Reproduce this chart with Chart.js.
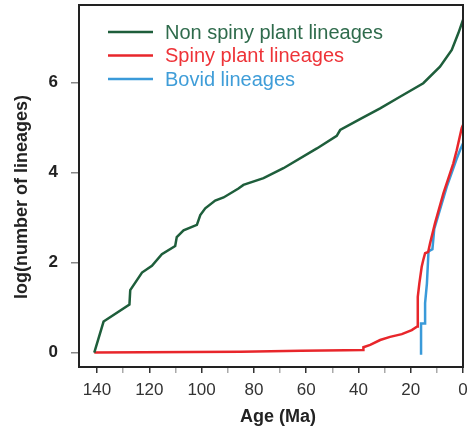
<!DOCTYPE html>
<html>
<head>
<meta charset="utf-8">
<script src="https://cdn.jsdelivr.net/npm/chart.js@4.4.1/dist/chart.umd.min.js"></script>
<style>
  body { margin: 0; background: #fff; }
  #wrap { width: 468px; height: 429px; }
</style>
</head>
<body>
<div id="wrap"><canvas id="myChart" width="468" height="429"></canvas></div>
<script>
// Age (Ma) and log(number of lineages)
var greenAge = [141.06, 137.5, 127.6, 127.3, 122.8, 119.0, 115.2, 110.1, 109.5, 106.9, 101.8, 100.5, 98.6, 94.8, 91.6, 85.9, 84.0, 76.3, 68.7, 55.9, 48.3, 47.0, 39.4, 31.7, 24.1, 15.2, 8.8, 4.3, 1.8, 0];
var greenLog = [0, 0.69, 1.07, 1.39, 1.78, 1.93, 2.19, 2.37, 2.57, 2.72, 2.84, 3.06, 3.21, 3.38, 3.45, 3.65, 3.73, 3.88, 4.10, 4.54, 4.82, 4.95, 5.19, 5.43, 5.69, 5.99, 6.36, 6.73, 7.10, 7.40];

var redAge = [141.06, 85, 62, 45, 38.2, 38.1, 35.5, 31.7, 27.9, 23.4, 19.6, 17.5, 17.3, 16.7, 15.8, 15.2, 14.5, 13.3, 12.6, 10.7, 7.5, 3.7, 2.4, 0.5, 0];
var redLog = [0, 0.02, 0.04, 0.05, 0.06, 0.12, 0.17, 0.28, 0.35, 0.41, 0.50, 0.58, 1.24, 1.54, 1.91, 2.06, 2.21, 2.24, 2.43, 2.88, 3.54, 4.21, 4.50, 4.99, 5.06];

var blueAge = [16.05, 16.05, 14.5, 14.5, 13.8, 13.2, 11.7, 11.0, 6.2, 2.5, 1.15, 0];
var blueLog = [-0.05, 0.65, 0.65, 1.10, 1.54, 2.25, 2.30, 2.75, 3.69, 4.30, 4.50, 4.65];

var seriesNames = ['Non spiny plant lineages', 'Spiny plant lineages', 'Bovid lineages'];
var xTicks = [0, 10, 20, 30, 40, 50, 60, 70, 80, 90, 100, 110, 120, 130, 140];
var yTicks = [0, 2, 4, 6];

var FONT = "'Liberation Sans', Arial, sans-serif";

function pts(xs, ys) {
    var out = [];
    for (var i = 0; i < xs.length; i++) out.push({x: xs[i], y: ys[i]});
    return out;
}

// box, axis titles and legend
var extras = {
    id: 'extras',
    afterDatasetsDraw: function(chart) {
        var c = chart.ctx, a = chart.chartArea;
        c.save();
        c.strokeStyle = '#222';
        c.lineWidth = 2;
        c.strokeRect(a.left, a.top, a.right - a.left, a.bottom - a.top);

        c.fillStyle = '#222';
        c.font = 'bold 18px ' + FONT;
        c.textAlign = 'center';
        c.textBaseline = 'middle';
        c.fillText('Age (Ma)', 278, 417);
        c.translate(22, 197);
        c.rotate(-Math.PI / 2);
        c.fillText('log(number of lineages)', 0, 0);
        c.restore();

        c.save();
        var textCols = ['#2f6b4c', '#ee3338', '#3f9dd8'];
        var rows = [32, 55.5, 79];
        c.font = '20px ' + FONT;
        c.textBaseline = 'middle';
        c.textAlign = 'left';
        chart.data.datasets.forEach(function(ds, i) {
            c.strokeStyle = ds.borderColor;
            c.lineWidth = 2.5;
            c.beginPath();
            c.moveTo(108, rows[i]);
            c.lineTo(153, rows[i]);
            c.stroke();
            c.fillStyle = textCols[i];
            c.fillText(ds.label, 165, rows[i] + 1);
        });
        c.restore();
    }
};

var ctx = document.getElementById('myChart').getContext('2d');
var chart = new Chart(ctx, {
    type: 'line',
    data: {
        datasets: [{
            label: seriesNames[0],
            data: pts(greenAge, greenLog),
            borderColor: '#1e5e3b',
            borderWidth: 2.5,
            order: 1
        }, {
            label: seriesNames[1],
            data: pts(redAge, redLog),
            borderColor: '#e8262b',
            borderWidth: 2.5,
            order: 2
        }, {
            label: seriesNames[2],
            data: pts(blueAge, blueLog),
            borderColor: '#3a9ad9',
            borderWidth: 2.5,
            order: 3
        }]
    },
    options: {
        responsive: false,
        animation: false,
        elements: { point: { radius: 0 }, line: { tension: 0 } },
        layout: { padding: { top: 5, right: 5, left: 0, bottom: 0 } },
        plugins: { legend: { display: false }, tooltip: { enabled: false } },
        scales: {
            x: {
                type: 'linear',
                reverse: true,
                min: 0,
                max: 146.9,
                afterBuildTicks: function(s) { s.ticks = xTicks.map(function(v) { return {value: v}; }); },
                afterFit: function(s) { s.height = 62; s.paddingLeft = 0; s.paddingRight = 0; },
                border: { display: false },
                grid: {
                    drawOnChartArea: false,
                    tickLength: 6,
                    lineWidth: 1.5,
                    tickColor: function(c) { return c.tick && c.tick.value % 20 === 0 ? '#333' : '#aaa'; }
                },
                ticks: {
                    autoSkip: false,
                    maxRotation: 0,
                    padding: 7,
                    color: '#333',
                    font: { family: FONT, size: 17 },
                    callback: function(v) { return v % 20 === 0 ? String(v) : ''; }
                }
            },
            y: {
                min: -0.32,
                max: 7.73,
                afterBuildTicks: function(s) { s.ticks = yTicks.map(function(v) { return {value: v}; }); },
                afterFit: function(s) { s.width = 79; s.paddingTop = 0; s.paddingBottom = 0; },
                border: { display: false },
                grid: {
                    drawOnChartArea: false,
                    tickLength: 8,
                    lineWidth: 1.5,
                    tickColor: '#888'
                },
                ticks: {
                    padding: 13,
                    color: '#222',
                    font: { family: FONT, size: 17, weight: 'bold' }
                }
            }
        }
    },
    plugins: [extras]
});
</script>
</body>
</html>
